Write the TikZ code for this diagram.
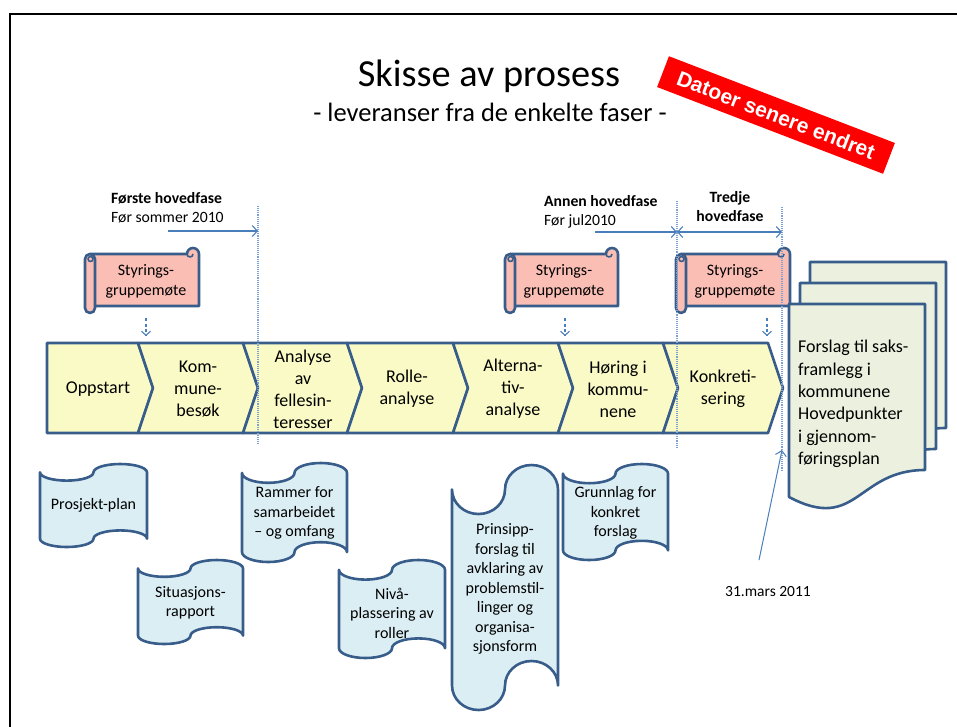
\documentclass[tikz,border=0pt]{standalone}
\usepackage{fontspec}
\setmainfont{Carlito}
\newfontfamily\stampfont{Liberation Sans}
\usetikzlibrary{arrows.meta}

\definecolor{edgeblue}{RGB}{56,93,138}
\definecolor{linkblue}{RGB}{74,126,187}
\definecolor{guideblue}{RGB}{125,162,210}
\definecolor{bandfill}{RGB}{250,250,198}
\definecolor{scrollfill}{RGB}{250,190,180}
\definecolor{tapefill}{RGB}{219,238,244}
\definecolor{docfill}{RGB}{235,241,222}

% punched tape: left, top, width, height
\newcommand{\tapepath}[4]{%
  \filldraw[tapebox] (#1,{#2+0.1*#4})
    arc[start angle=180,end angle=0,x radius={#3/4},y radius={0.1*#4}]
    arc[start angle=180,end angle=360,x radius={#3/4},y radius={0.1*#4}]
    -- ({#1+#3},{#2+0.9*#4})
    arc[start angle=0,end angle=-180,x radius={#3/4},y radius={0.1*#4}]
    arc[start angle=0,end angle=180,x radius={#3/4},y radius={0.1*#4}]
    -- cycle;}

% horizontal scroll: left, top, right, bottom
\newcommand{\scrollpath}[4]{%
  \filldraw[scrollbox] ({#1+5},{#4-7}) -- ({#1+5},{#2+6}) -- ({#3-12},{#2+6})
    arc[start angle=180,end angle=360,radius=6] -- (#3,{#4-7}) -- cycle;
  \draw[shapeline,line width=1.6pt] ({#3-6},{#2+6}) arc[start angle=0,end angle=180,radius=3];
  \filldraw[scrollbox] (#1,{#2+11}) -- (#1,{#4-5})
    arc[start angle=180,end angle=0,radius=5] -- ({#1+10},{#2+11})
    arc[start angle=0,end angle=-180,radius=5] -- cycle;
  \draw[shapeline,line width=1.6pt] ({#1+5.5},{#2+11}) circle[radius=2.5];}

% document page with wavy foot: left, top
\newcommand{\docpath}[2]{%
  \filldraw[docbox] (#1,#2) -- ({#1+136},#2) -- ({#1+136},{#2+166})
    .. controls ({#1+68},{#2+166}) and ({#1+68},{#2+229}) .. (#1,{#2+193}) -- cycle;}

% chevron step of the process band: left edge, right edge
\newcommand{\chevpath}[2]{%
  \filldraw[bandbox] (#1,343) -- (#2,343) -- ({#2+15},388) -- (#2,433)
    -- (#1,433) -- ({#1+15},388) -- cycle;}

\begin{document}
\begin{tikzpicture}[x=1pt,y=-1pt,
  shapeline/.style={draw=edgeblue,line width=2.6pt,line join=round},
  bandbox/.style={shapeline,fill=bandfill},
  scrollbox/.style={shapeline,fill=scrollfill},
  tapebox/.style={shapeline,fill=tapefill},
  docbox/.style={shapeline,fill=docfill},
  bandtext/.style={align=center,inner sep=0pt,font=\fontsize{18}{22}\selectfont},
  tapetext/.style={align=center,inner sep=0pt,font=\fontsize{16}{19.5}\selectfont},
  phasetext/.style={inner sep=0pt,font=\fontsize{15.7}{18.5}\selectfont},
  phasebold/.style={phasetext,font=\bfseries\fontsize{15.7}{18.5}\selectfont},
  link/.style={draw=linkblue,line width=1.1pt,-{Straight Barb[length=5pt,width=11pt]}},
  twolink/.style={link,{Straight Barb[length=5pt,width=11pt]}-{Straight Barb[length=5pt,width=11pt]}},
  cue/.style={draw=linkblue,line width=1.1pt,dash pattern=on 3pt off 2.5pt,
    -{Straight Barb[length=4pt,width=9pt]}},
  guide/.style={draw=guideblue,line width=1.1pt,densely dotted}]

\useasboundingbox (0,0) rectangle (957,726);
\clip (0,0) rectangle (957,726);

% slide frame
\draw[line width=2.5pt] (10,800) -- (10,14) -- (1000,14);

% headings
\node[anchor=base,inner sep=0pt,font=\fontsize{38.3}{46}\selectfont] (title) at (489,86) {Skisse av prosess};
\node[anchor=base,inner sep=0pt,font=\fontsize{26.5}{32}\selectfont] (subtitle) at (490,121) {- leveranser fra de enkelte faser -};

% stamp
\node[fill=red,text=white,inner sep=0pt,minimum width=242pt,minimum height=33pt,rotate=-21,
  font=\stampfont\bfseries\fontsize{21}{25}\selectfont] (stamp) at (776,115) {Datoer senere endret};

% phase headings
\node[phasebold,anchor=base west] (p1) at (111,203) {Første hovedfase};
\node[phasetext,anchor=base west] (p1d) at (111,222) {Før sommer 2010};
\node[phasebold,anchor=base west] (p2) at (544,206) {Annen hovedfase};
\node[phasetext,anchor=base west] (p2d) at (544,225) {Før jul2010};
\node[phasebold,anchor=base] (p3) at (730,202) {Tredje};
\node[phasebold,anchor=base] (p3b) at (730,221) {hovedfase};

% steering group meetings
\scrollpath{85}{248}{199}{313}
\scrollpath{505}{248}{618}{313}
\scrollpath{676}{248}{790}{313}
\node[tapetext,font=\fontsize{16}{20}\selectfont] (s1) at (146,281) {Styrings-\\gruppemøte};
\node[tapetext,font=\fontsize{16}{20}\selectfont] (s2) at (564,281) {Styrings-\\gruppemøte};
\node[tapetext,font=\fontsize{16}{20}\selectfont] (s3) at (735,281) {Styrings-\\gruppemøte};

% process band
\filldraw[bandbox] (47,343) -- (138,343) -- (153,388) -- (138,433) -- (47,433) -- cycle;
\chevpath{138}{243}
\chevpath{243}{347}
\chevpath{347}{453}
\chevpath{453}{558}
\chevpath{558}{663}
\chevpath{663}{768}
\node[bandtext] (c1) at (98,389) {Oppstart};
\node[bandtext] (c2) at (198,389) {Kom-\\mune-\\besøk};
\node[bandtext] (c3) at (303,389) {Analyse\\av\\fellesin-\\teresser};
\node[bandtext] (c4) at (407,389) {Rolle-\\analyse};
\node[bandtext] (c5) at (513,389) {Alterna-\\tiv-\\analyse};
\node[bandtext] (c6) at (618,389) {Høring i\\kommu-\\nene};
\node[bandtext] (c7) at (723,389) {Konkreti-\\sering};

% deliverables
\tapepath{40}{464}{107}{83}
\tapepath{138}{560}{105}{84}
\tapepath{242}{463}{105}{99}
\tapepath{339}{560}{106}{98}
\tapepath{452}{465}{106}{245}
\tapepath{563}{464}{105}{96}
\node[tapetext] (t1) at (93.5,505) {Prosjekt-plan};
\node[tapetext] (t2) at (190.5,603) {Situasjons-\\rapport};
\node[tapetext] (t3) at (294.5,513) {Rammer for\\samarbeidet\\– og omfang};
\node[tapetext] (t4) at (392,613) {Nivå-\\plassering av\\roller};
\node[tapetext] (t5) at (505,589) {Prinsipp-\\forslag til\\avklaring av\\problemstil-\\linger og\\organisa-\\sjonsform};
\node[tapetext] (t6) at (615.5,513) {Grunnlag for\\konkret\\forslag};

% final documents
\docpath{810}{262}
\docpath{800}{283}
\docpath{789}{304}
\node[align=left,anchor=west,inner sep=0pt,font=\fontsize{18}{22.3}\selectfont] (d1) at (798,404)
  {Forslag til saks-\\framlegg i\\kommunene\\Hovedpunkter\\i gjennom-\\føringsplan};

% phase boundaries
\coordinate (g1top) at (258,206);
\coordinate (g1bot) at (258,445);
\coordinate (g2top) at (677,201);
\coordinate (g2bot) at (677,447);
\coordinate (g3top) at (782,207);
\coordinate (g3bot) at (782,470);
\draw[guide] (g1top) -- (g1bot);
\draw[guide] (g2top) -- (g2bot);
\draw[guide] (g3top) -- (g3bot);

% phase spans
\coordinate (a1) at (168,231);
\coordinate (a2) at (595,232);
\draw[link] (a1) -- (a1 -| g1top);
\draw[link] (a2) -- (a2 -| g2top);
\draw[twolink] (a2 -| g2top) -- (a2 -| g3top);

% meetings feed the band
\coordinate (q1a) at (146,318);
\coordinate (q1b) at (146,336);
\coordinate (q2a) at (565,318);
\coordinate (q2b) at (565,336);
\coordinate (q3a) at (767,318);
\coordinate (q3b) at (767,336);
\draw[cue] (q1a) -- (q1b);
\draw[cue] (q2a) -- (q2b);
\draw[cue] (q3a) -- (q3b);

% deadline marker
\node[inner sep=0pt,font=\fontsize{15.5}{18}\selectfont] (deadline) at (768,592) {31.mars 2011};
\coordinate (dl) at (759,560);
\coordinate (dm) at (782,450);
\draw[link,line width=1pt] (dl) -- (dm);

\end{tikzpicture}
\end{document}
